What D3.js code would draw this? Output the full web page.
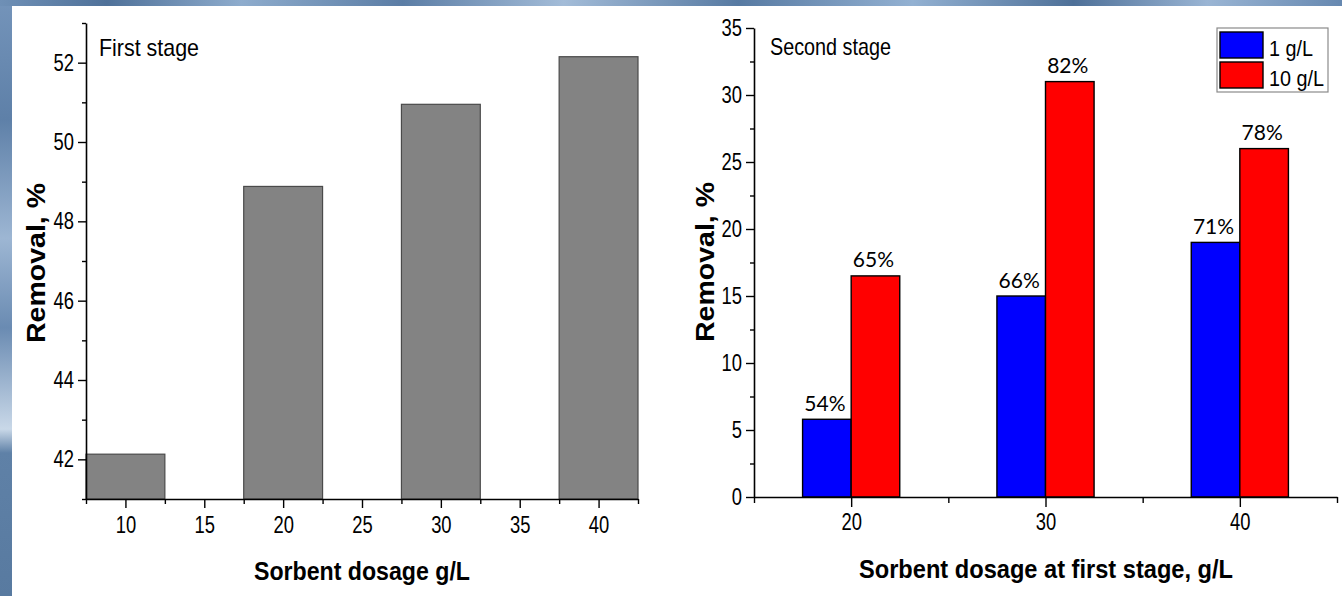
<!DOCTYPE html>
<html>
<head>
<meta charset="utf-8">
<script src="https://cdn.jsdelivr.net/npm/d3@7"></script>
<style>
  body { margin: 0; overflow: hidden; background: #fff; }
  svg { display: block; }
</style>
</head>
<body>
<svg id="chart" width="1342" height="596"></svg>
<script>
// First stage: removal vs. sorbent dosage
const firstStageDosage = [10, 20, 30, 40];
const firstStageRemoval = [42.13, 48.88, 50.95, 52.15];
const firstYTicks = [42, 44, 46, 48, 50, 52];
const firstYMinor = [41, 43, 45, 47, 49, 51, 53];
const firstXTicks = [10, 15, 20, 25, 30, 35, 40];
const firstXMinor = [7.5, 12.5, 17.5, 22.5, 27.5, 32.5, 37.5, 42.5];

// Second stage: removal vs. first-stage dosage, two second-stage dosages
const secondStageDosage = [20, 30, 40];
const seriesNames = ["1 g/L", "10 g/L"];
const removal1gL = [5.8, 15, 19];
const removal10gL = [16.5, 31, 26];
const labels1gL = ["54%", "66%", "71%"];
const labels10gL = ["65%", "82%", "78%"];
const secondYTicks = [0, 5, 10, 15, 20, 25, 30, 35];
const secondYMinor = [2.5, 7.5, 12.5, 17.5, 22.5, 27.5, 32.5];
const secondXTicks = [20, 30, 40];
const secondXMinor = [15, 25, 35, 45];

const svg = d3.select("#chart");

// ---- backdrop: blue water texture framing a white panel ----
const defs = svg.append("defs");
const gTop = defs.append("linearGradient").attr("id", "waterTop").attr("x1", 0).attr("x2", 1).attr("y1", 0).attr("y2", 0);
[["0", "#6f90b6"], ["0.08", "#4f7199"], ["0.18", "#8eaccd"], ["0.3", "#5b7da5"], ["0.42", "#a3bcd8"],
 ["0.55", "#577aa2"], ["0.68", "#93b1d2"], ["0.8", "#4e7098"], ["0.9", "#9ab5d4"], ["1", "#6688b0"]]
  .forEach(([o, c]) => gTop.append("stop").attr("offset", o).attr("stop-color", c));
const gLeft = defs.append("linearGradient").attr("id", "waterLeft").attr("x1", 0).attr("x2", 0).attr("y1", 0).attr("y2", 1);
[["0", "#7494ba"], ["0.2", "#5e80a8"], ["0.4", "#9db6d3"], ["0.55", "#6a8bb2"], ["0.72", "#c9d8e8"],
 ["0.76", "#5f81a7"], ["1", "#587aa0"]]
  .forEach(([o, c]) => gLeft.append("stop").attr("offset", o).attr("stop-color", c));

svg.append("rect").attr("x", 0).attr("y", 0).attr("width", 1342).attr("height", 596).attr("fill", "url(#waterLeft)");
svg.append("rect").attr("x", 0).attr("y", 0).attr("width", 1342).attr("height", 6).attr("fill", "url(#waterTop)");
svg.append("rect").attr("x", 12).attr("y", 6).attr("width", 1330).attr("height", 590).attr("fill", "#ffffff");

const sans = "'Liberation Sans', Arial, sans-serif";

function squeezeTicks(g, k) {
  g.selectAll(".tick text").each(function () {
    const t = d3.select(this);
    const x = +t.attr("x") || 0, y = +t.attr("y") || 0;
    t.attr("x", null).attr("y", null)
     .attr("transform", `translate(${x},${y}) scale(${k},1)`);
  });
}

function styleAxis(g) {
  g.selectAll("path.domain").attr("stroke", "#000").attr("stroke-width", 1.6);
  g.selectAll(".tick line").attr("stroke", "#000").attr("stroke-width", 1.4);
  g.selectAll(".tick text").attr("fill", "#000").style("font-family", sans).style("font-size", "23px");
}

function fittedText(parent, txt, x, y, len, opts) {
  const t = parent.append("text")
    .attr("x", x).attr("y", y)
    .attr("text-anchor", opts.anchor || "middle")
    .attr("textLength", len).attr("lengthAdjust", "spacingAndGlyphs")
    .style("font-family", sans)
    .style("font-size", opts.size + "px")
    .style("font-weight", opts.weight || "normal")
    .attr("fill", "#000")
    .text(txt);
  if (opts.rotate) t.attr("transform", `rotate(-90,${x},${y})`);
  return t;
}

// ================= First stage panel =================
const x1 = d3.scaleLinear().domain([7.5, 42.5]).range([86, 638]);
const y1 = d3.scaleLinear().domain([41, 53]).range([499, 23]);
const p1 = svg.append("g");

p1.selectAll("rect.bar")
  .data(firstStageDosage.map((d, i) => ({ d, v: firstStageRemoval[i] })))
  .join("rect")
  .attr("class", "bar")
  .attr("x", o => x1(o.d - 2.5))
  .attr("width", o => x1(o.d + 2.5) - x1(o.d - 2.5))
  .attr("y", o => y1(o.v))
  .attr("height", o => y1(41) - y1(o.v))
  .attr("fill", "#838383")
  .attr("stroke", "#4a4a4a")
  .attr("stroke-width", 1.2);

const ax1yMinor = p1.append("g").attr("transform", "translate(86,0)")
  .call(d3.axisLeft(y1).tickValues(firstYMinor).tickSize(4).tickFormat(""));
ax1yMinor.select("path.domain").remove();
const ax1y = p1.append("g").attr("transform", "translate(86,0)")
  .call(d3.axisLeft(y1).tickValues(firstYTicks).tickSize(8).tickSizeOuter(0).tickPadding(4));
const ax1xMinor = p1.append("g").attr("transform", "translate(0,499)")
  .call(d3.axisBottom(x1).tickValues(firstXMinor).tickSize(5).tickFormat(""));
ax1xMinor.select("path.domain").remove();
const ax1x = p1.append("g").attr("transform", "translate(0,499)")
  .call(d3.axisBottom(x1).tickValues(firstXTicks).tickSize(9).tickSizeOuter(0).tickPadding(9));
[ax1yMinor, ax1y, ax1xMinor, ax1x].forEach(styleAxis);
squeezeTicks(ax1y, 0.8);
squeezeTicks(ax1x, 0.8);

fittedText(p1, "First stage", 99, 56, 100, { size: 24, anchor: "start" });
fittedText(p1, "Sorbent dosage g/L", 362, 580, 216, { size: 25, weight: "bold" });
fittedText(p1, "Removal, %", 45, 263, 160, { size: 25, weight: "bold", rotate: true });

// ================= Second stage panel =================
const x2 = d3.scaleLinear().domain([15, 45]).range([754, 1337]);
const y2 = d3.scaleLinear().domain([0, 35]).range([497, 28]);
const p2 = svg.append("g");
const colors = ["#0000ff", "#ff0000"];
const barData = [];
secondStageDosage.forEach((d, i) => {
  barData.push({ d, s: 0, v: removal1gL[i], label: labels1gL[i] });
  barData.push({ d, s: 1, v: removal10gL[i], label: labels10gL[i] });
});

p2.selectAll("rect.bar")
  .data(barData)
  .join("rect")
  .attr("class", "bar")
  .attr("x", o => x2(o.s === 0 ? o.d - 2.5 : o.d))
  .attr("width", x2(17.5) - x2(15))
  .attr("y", o => y2(o.v))
  .attr("height", o => y2(0) - y2(o.v))
  .attr("fill", o => colors[o.s])
  .attr("stroke", "#000")
  .attr("stroke-width", 1.4);

p2.selectAll("text.val")
  .data(barData)
  .join("text")
  .attr("class", "val")
  .attr("x", o => x2(o.s === 0 ? o.d - 1.25 : o.d + 1.25) - 2)
  .attr("y", o => y2(o.v) - 8.5)
  .attr("text-anchor", "middle")
  .style("font-family", "Lato, 'Open Sans', sans-serif")
  .style("font-size", "21px")
  .attr("fill", "#000")
  .text(o => o.label);

const ax2yMinor = p2.append("g").attr("transform", "translate(754,0)")
  .call(d3.axisLeft(y2).tickValues(secondYMinor).tickSize(4).tickFormat(""));
ax2yMinor.select("path.domain").remove();
const ax2y = p2.append("g").attr("transform", "translate(754,0)")
  .call(d3.axisLeft(y2).tickValues(secondYTicks).tickSize(8).tickSizeOuter(0).tickPadding(4));
const ax2xMinor = p2.append("g").attr("transform", "translate(0,497)")
  .call(d3.axisBottom(x2).tickValues(secondXMinor).tickSize(6).tickFormat(""));
ax2xMinor.select("path.domain").remove();
const ax2x = p2.append("g").attr("transform", "translate(0,497)")
  .call(d3.axisBottom(x2).tickValues(secondXTicks).tickSize(10).tickSizeOuter(0).tickPadding(7));
[ax2yMinor, ax2y, ax2xMinor, ax2x].forEach(styleAxis);
squeezeTicks(ax2y, 0.8);
squeezeTicks(ax2x, 0.8);

fittedText(p2, "Second stage", 770, 55, 121, { size: 24, anchor: "start" });
fittedText(p2, "Sorbent dosage at first stage, g/L", 1046, 578, 374, { size: 25, weight: "bold" });
fittedText(p2, "Removal, %", 714, 262, 160, { size: 25, weight: "bold", rotate: true });

// Legend
const lg = p2.append("g");
lg.append("rect").attr("x", 1217).attr("y", 28).attr("width", 111).attr("height", 64)
  .attr("fill", "#fff").attr("stroke", "#8a8a8a").attr("stroke-width", 1.2);
const legendWidths = [44, 55];
seriesNames.forEach((name, i) => {
  lg.append("rect").attr("x", 1220).attr("y", 32 + i * 30).attr("width", 43).attr("height", 26)
    .attr("fill", colors[i]).attr("stroke", "#000").attr("stroke-width", 1.4);
  fittedText(lg, name, 1269, 56 + i * 30, legendWidths[i], { size: 22, anchor: "start" });
});
</script>
</body>
</html>
